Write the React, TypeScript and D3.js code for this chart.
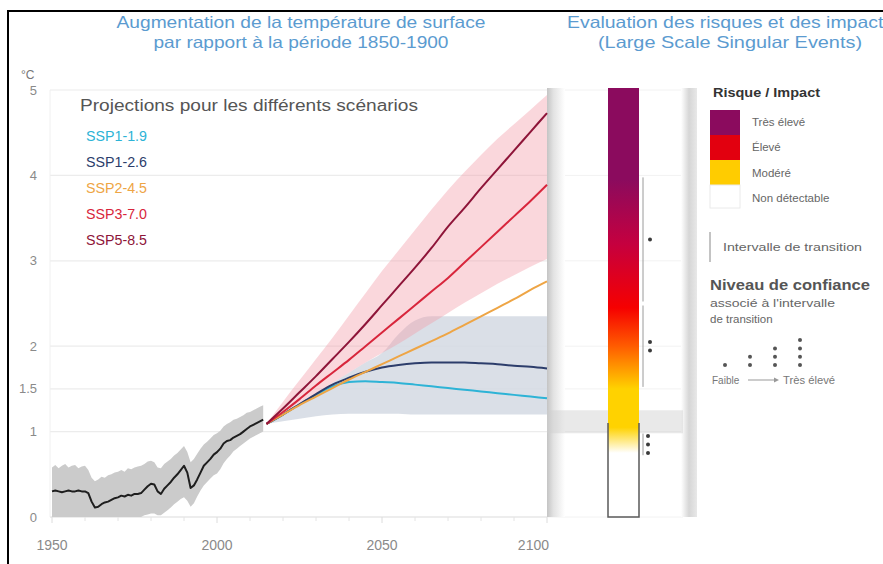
import React from 'react';
import * as d3 from 'd3';

// Observed warming 1950-2014 (°C relative to 1850-1900), one value per year
const histStart = 1950;
const histMean = [
  0.30, 0.31, 0.30, 0.29, 0.30, 0.31, 0.30, 0.30, 0.31, 0.30,
  0.30, 0.28, 0.18, 0.11, 0.12, 0.15, 0.17, 0.18, 0.20, 0.22,
  0.23, 0.25, 0.24, 0.26, 0.25, 0.27, 0.27, 0.28, 0.32, 0.36,
  0.39, 0.38, 0.30, 0.27, 0.33, 0.37, 0.41, 0.46, 0.50, 0.55,
  0.60, 0.52, 0.34, 0.37, 0.44, 0.52, 0.60, 0.64, 0.68, 0.73,
  0.76, 0.80, 0.86, 0.89, 0.90, 0.93, 0.95, 0.97, 1.00, 1.03,
  1.06, 1.08, 1.10, 1.12, 1.14,
];
const histHigh = [
  0.58, 0.61, 0.57, 0.60, 0.62, 0.58, 0.60, 0.61, 0.57, 0.59,
  0.60, 0.55, 0.46, 0.42, 0.44, 0.47, 0.46, 0.49, 0.50, 0.52,
  0.53, 0.55, 0.53, 0.57, 0.56, 0.58, 0.59, 0.60, 0.62, 0.65,
  0.66, 0.64, 0.58, 0.57, 0.62, 0.65, 0.68, 0.72, 0.75, 0.79,
  0.83, 0.76, 0.64, 0.68, 0.74, 0.80, 0.85, 0.88, 0.92, 0.96,
  0.98, 1.01, 1.06, 1.09, 1.11, 1.14, 1.15, 1.17, 1.19, 1.22,
  1.23, 1.25, 1.27, 1.29, 1.31,
];
const histLow = [
  0.00, 0.00, 0.00, 0.00, 0.00, 0.00, 0.00, 0.00, 0.00, 0.00,
  0.00, 0.00, 0.00, 0.00, 0.00, 0.00, 0.00, 0.00, 0.00, 0.00,
  0.00, 0.00, 0.00, 0.00, 0.00, 0.00, 0.00, 0.00, 0.02, 0.03,
  0.04, 0.04, 0.02, 0.02, 0.05, 0.08, 0.11, 0.15, 0.18, 0.21,
  0.23, 0.19, 0.12, 0.16, 0.24, 0.31, 0.37, 0.41, 0.45, 0.49,
  0.51, 0.56, 0.63, 0.68, 0.72, 0.77, 0.80, 0.83, 0.86, 0.89,
  0.92, 0.94, 0.96, 0.98, 1.00,
];

// Projection years and scenario medians
const projYears = [2015, 2020, 2025, 2030, 2035, 2040, 2045, 2050, 2055, 2060, 2065, 2070, 2075, 2080, 2085, 2090, 2095, 2100];
const ssp119 = [1.09, 1.20, 1.32, 1.43, 1.53, 1.58, 1.59, 1.58, 1.57, 1.55, 1.53, 1.51, 1.49, 1.47, 1.45, 1.43, 1.41, 1.39];
const ssp126 = [1.09, 1.20, 1.32, 1.44, 1.55, 1.63, 1.70, 1.75, 1.78, 1.80, 1.81, 1.81, 1.81, 1.80, 1.79, 1.77, 1.76, 1.74];
const ssp245 = [1.09, 1.20, 1.31, 1.41, 1.51, 1.61, 1.70, 1.79, 1.88, 1.97, 2.06, 2.15, 2.25, 2.35, 2.45, 2.55, 2.66, 2.76];
const ssp370 = [1.09, 1.23, 1.38, 1.54, 1.69, 1.84, 2.00, 2.16, 2.32, 2.48, 2.64, 2.80, 2.98, 3.16, 3.34, 3.52, 3.70, 3.89];
const ssp585 = [1.09, 1.27, 1.46, 1.65, 1.85, 2.05, 2.26, 2.48, 2.70, 2.92, 3.15, 3.40, 3.62, 3.85, 4.07, 4.29, 4.51, 4.73];

// Very likely ranges: high-emission (pink) and low-emission (grey-blue)
const highBandTop = [1.09, 1.35, 1.60, 1.85, 2.10, 2.36, 2.62, 2.88, 3.12, 3.36, 3.60, 3.83, 4.04, 4.24, 4.43, 4.60, 4.77, 4.94];
const highBandBottom = [1.09, 1.19, 1.31, 1.44, 1.57, 1.69, 1.81, 1.92, 2.03, 2.15, 2.27, 2.39, 2.51, 2.62, 2.73, 2.83, 2.93, 3.02];
const lowBandTop = [1.09, 1.19, 1.31, 1.44, 1.57, 1.69, 1.81, 1.92, 2.14, 2.30, 2.35, 2.35, 2.35, 2.35, 2.35, 2.35, 2.35, 2.35];
const lowBandBottom = [1.09, 1.12, 1.15, 1.18, 1.20, 1.21, 1.21, 1.21, 1.21, 1.20, 1.20, 1.20, 1.20, 1.20, 1.20, 1.20, 1.20, 1.20];

const scenarioNames = ['SSP1-1.9', 'SSP1-2.6', 'SSP2-4.5', 'SSP3-7.0', 'SSP5-8.5'];
const scenarioColors = ['#2db3d6', '#2c3d6b', '#eea545', '#d8263c', '#8e1539'];
const scenarioSeries = [ssp119, ssp126, ssp245, ssp370, ssp585];

const yTicks = [0, 1, 1.5, 2, 3, 4, 5];
const xTicks = [1950, 2000, 2050, 2100];
const xMinorTicks = [1960, 1970, 1980, 1990, 2010, 2020, 2030, 2040, 2060, 2070, 2080, 2090];

// Risk levels (legend) and transition intervals (°C) with confidence dots
const riskLabels = ['Très élevé', 'Élevé', 'Modéré', 'Non détectable'];
const riskColors = ['#8b0b5e', '#e2000f', '#ffcc00', '#ffffff'];
const transitions = [
  { from: 2.5, to: 4.0, dots: 1 },
  { from: 1.5, to: 2.5, dots: 2 },
  { from: 0.7, to: 1.0, dots: 3 },
];
const riskGradient = [
  { t: 5.0, c: '#8b0b5e' },
  { t: 3.95, c: '#8b0b5e' },
  { t: 3.2, c: '#c5003f' },
  { t: 2.45, c: '#f60000' },
  { t: 2.0, c: '#ff5c00' },
  { t: 1.5, c: '#ffd200' },
  { t: 1.05, c: '#ffd200' },
  { t: 0.75, c: '#ffffff' },
  { t: 0.0, c: '#ffffff' },
];
const currentWarming = [0.98, 1.25];

const FONT = "'Liberation Sans', Arial, sans-serif";

export default function App() {
  const x = d3.scaleLinear().domain([1950, 2100]).range([52, 547]);
  const y = d3.scaleLinear().domain([0, 5]).range([517, 90]);

  const histIdx = histMean.map((_, i) => i);
  const histLine = d3.line<number>().x((i) => x(histStart + i)).y((i) => y(histMean[i]))(histIdx) || '';
  const histArea = d3.area<number>().x((i) => x(histStart + i)).y0((i) => y(histLow[i])).y1((i) => y(histHigh[i]))(histIdx) || '';

  const pIdx = projYears.map((_, i) => i);
  const bandPath = (top: number[], bottom: number[]) =>
    d3.area<number>().curve(d3.curveMonotoneX).x((i) => x(projYears[i])).y0((i) => y(bottom[i])).y1((i) => y(top[i]))(pIdx) || '';
  const seriesPath = (s: number[]) =>
    d3.line<number>().curve(d3.curveMonotoneX).x((i) => x(projYears[i])).y((i) => y(s[i]))(pIdx) || '';

  const panelL = x(2100);
  const panelR = 697;
  const barX = 608;
  const barW = 31;
  const barTop = y(5) - 2;

  return (
    <svg width={883} height={564} style={{ position: 'absolute', left: 0, top: 0, background: '#fff' }} fontFamily={FONT}>
      <defs>
        <linearGradient id="riskGrad" gradientUnits="userSpaceOnUse" x1={0} x2={0} y1={y(5)} y2={y(0)}>
          {riskGradient.map((s, i) => (
            <stop key={i} offset={(5 - s.t) / 5} stopColor={s.c} />
          ))}
        </linearGradient>
        <linearGradient id="leftShade" x1={0} x2={1} y1={0} y2={0}>
          <stop offset={0} stopColor="#c4c4c4" />
          <stop offset={0.35} stopColor="#e2e2e2" />
          <stop offset={1} stopColor="#ffffff" />
        </linearGradient>
        <linearGradient id="rightShade" x1={0} x2={1} y1={0} y2={0}>
          <stop offset={0} stopColor="#ffffff" />
          <stop offset={0.5} stopColor="#d6d6d6" />
          <stop offset={1} stopColor="#e8e8e8" />
        </linearGradient>
      </defs>
      <rect x={0} y={0} width={883} height={564} fill="#fff" />

      {/* frame */}
      <line x1={8} x2={883} y1={11} y2={11} stroke="#000" strokeWidth={2} />
      <line x1={8} x2={8} y1={10} y2={564} stroke="#000" strokeWidth={2} />

      {/* titles */}
      <text x={301} y={28} textAnchor="middle" fontSize={16.5} fill="#5b9bd0" textLength={369} lengthAdjust="spacingAndGlyphs">
        Augmentation de la température de surface
      </text>
      <text x={301} y={48} textAnchor="middle" fontSize={16.5} fill="#5b9bd0" textLength={295} lengthAdjust="spacingAndGlyphs">
        par rapport à la période 1850-1900
      </text>
      <text x={567} y={28} fontSize={16.5} fill="#5b9bd0" textLength={326} lengthAdjust="spacingAndGlyphs">
        Evaluation des risques et des impacts
      </text>
      <text x={730} y={48} textAnchor="middle" fontSize={16.5} fill="#5b9bd0" textLength={264} lengthAdjust="spacingAndGlyphs">
        (Large Scale Singular Events)
      </text>

      {/* grid */}
      {yTicks.map((t) => (
        <g key={t}>
          <line x1={50} x2={panelL} y1={y(t)} y2={y(t)} stroke={t === 0 ? '#dcdcdc' : '#ececec'} strokeWidth={1.2} />
          <line x1={panelL} x2={683} y1={y(t)} y2={y(t)} stroke="#f2f2f2" strokeWidth={1} />
          <text x={37} y={y(t) + 4.5} textAnchor="end" fontSize={13} fill="#8a8a8a">
            {String(t)}
          </text>
        </g>
      ))}
      <line x1={50} x2={50} y1={y(5)} y2={y(0)} stroke="#f0f0f0" strokeWidth={1} />
      <text x={21} y={79} fontSize={12} fill="#777">°C</text>

      {/* x axis */}
      {xMinorTicks.map((t) => (
        <line key={t} x1={x(t)} x2={x(t)} y1={y(0)} y2={y(0) + 4} stroke="#e4e4e4" />
      ))}
      {xTicks.map((t) => (
        <g key={t}>
          <line x1={x(t)} x2={x(t)} y1={y(0)} y2={y(0) + 6} stroke="#dcdcdc" />
          <text x={t === 2100 ? x(t) + 2 : x(t)} y={550} textAnchor={t === 2100 ? 'end' : 'middle'} fontSize={14} fill="#8a8a8a">
            {t}
          </text>
        </g>
      ))}

      {/* right panel background */}
      <rect x={panelL} y={barTop} width={18} height={y(0) - barTop} fill="url(#leftShade)" />
      <rect x={681} y={barTop} width={panelR - 681} height={y(0) - barTop} fill="url(#rightShade)" />
      <rect x={panelL} y={y(currentWarming[1])} width={683 - panelL} height={y(currentWarming[0]) - y(currentWarming[1])} fill="#cfcfcf" opacity={0.45} />

      {/* historical */}
      <path d={histArea} fill="#cbcbcb" />
      <path d={histLine} fill="none" stroke="#1e1e1e" strokeWidth={2} strokeLinejoin="round" />

      {/* projection ranges */}
      <path d={bandPath(lowBandTop, lowBandBottom)} fill="#d3d9e3" opacity={0.85} />
      <path d={bandPath(highBandTop, highBandBottom)} fill="#f29aa8" opacity={0.4} />

      {/* scenario medians */}
      {scenarioSeries.map((s, i) => (
        <path key={i} d={seriesPath(s)} fill="none" stroke={scenarioColors[i]} strokeWidth={2} />
      ))}

      {/* projections legend */}
      <text x={80} y={111} fontSize={16} fill="#555" textLength={338} lengthAdjust="spacingAndGlyphs">
        Projections pour les différents scénarios
      </text>
      {scenarioNames.map((n, i) => (
        <text key={n} x={86} y={141 + i * 26} fontSize={14} fill={scenarioColors[i]} textLength={61} lengthAdjust="spacingAndGlyphs">
          {n}
        </text>
      ))}

      {/* risk bar */}
      <rect x={barX} y={barTop} width={barW} height={y(0) - barTop} fill="url(#riskGrad)" />
      <path
        d={`M${barX},${y(1.1)} V${y(0)} H${barX + barW} V${y(1.1)}`}
        fill="none"
        stroke="#5a5a5a"
        strokeWidth={1.5}
      />
      {transitions.map((tr, i) => {
        const mid = (tr.from + tr.to) / 2;
        const offs = d3.range(tr.dots).map((k) => (k - (tr.dots - 1) / 2) * 8.5);
        return (
          <g key={i}>
            <line x1={643} x2={643} y1={y(tr.to) + 2} y2={y(tr.from) - 2} stroke="#9a9a9a" strokeWidth={1} />
            {offs.map((o, k) => (
              <circle key={k} cx={tr.dots === 3 ? 648 : 650} cy={y(mid) + o} r={2} fill="#3a3a3a" />
            ))}
          </g>
        );
      })}

      {/* risk legend */}
      <text x={713} y={97} fontSize={12} fontWeight="bold" fill="#333" textLength={107} lengthAdjust="spacingAndGlyphs">
        Risque / Impact
      </text>
      {riskLabels.map((l, i) => (
        <g key={l}>
          <rect
            x={710}
            y={110 + i * 25}
            width={30}
            height={i === 3 ? 23 : 25}
            fill={riskColors[i]}
            stroke={i === 3 ? '#eaeaea' : 'none'}
          />
          <text x={752} y={126 + i * 25.3} fontSize={11.5} fill="#666">
            {l}
          </text>
        </g>
      ))}
      <line x1={710} x2={710} y1={232} y2={262} stroke="#888" strokeWidth={1} />
      <text x={723} y={251} fontSize={11.5} fill="#666" textLength={139} lengthAdjust="spacingAndGlyphs">
        Intervalle de transition
      </text>
      <text x={710} y={290} fontSize={14} fontWeight="bold" fill="#555" textLength={160} lengthAdjust="spacingAndGlyphs">
        Niveau de confiance
      </text>
      <text x={710} y={307} fontSize={11.5} fill="#666" textLength={125} lengthAdjust="spacingAndGlyphs">
        associé à l'intervalle
      </text>
      <text x={710} y={323} fontSize={11.5} fill="#666">
        de transition
      </text>
      {[1, 2, 3, 4].map((n, j) => (
        <g key={n}>
          {d3.range(n).map((k) => (
            <circle key={k} cx={725 + j * 25} cy={365 - k * 8.3} r={2} fill="#555" />
          ))}
        </g>
      ))}
      <text x={712} y={384} fontSize={10} fill="#777">Faible</text>
      <line x1={748} x2={774} y1={380} y2={380} stroke="#999" strokeWidth={1} />
      <path d="M774,377.5 L779,380 L774,382.5 Z" fill="#999" />
      <text x={783} y={384} fontSize={10} fill="#777" textLength={52} lengthAdjust="spacingAndGlyphs">
        Très élevé
      </text>
    </svg>
  );
}
